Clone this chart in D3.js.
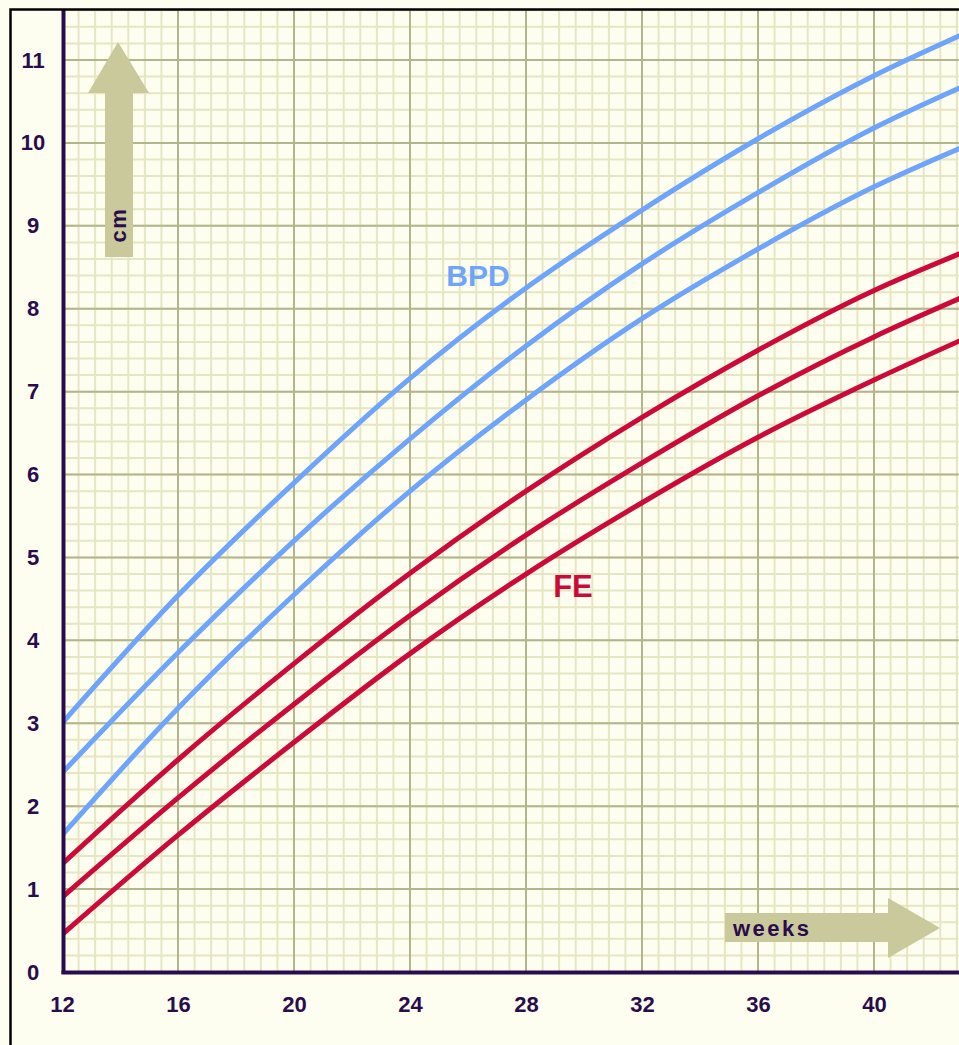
<!DOCTYPE html>
<html>
<head>
<meta charset="utf-8">
<script src="https://cdn.jsdelivr.net/npm/d3@7"></script>
<style>
html,body{margin:0;padding:0;background:#fefef0;}
svg{display:block;}
</style>
</head>
<body>
<svg id="chart" width="959" height="1045"></svg>
<script>
// ---- data ----
const weeks   = [12, 16, 20, 24, 28, 32, 36, 40, 43];
const bpdHigh = [3.00, 4.54, 5.90, 7.16, 8.25, 9.19, 10.05, 10.81, 11.30];
const bpdMid  = [2.40, 3.85, 5.20, 6.43, 7.55, 8.54, 9.40, 10.18, 10.67];
const bpdLow  = [1.65, 3.18, 4.55, 5.80, 6.90, 7.88, 8.72, 9.47, 9.94];
const feHigh  = [1.30, 2.56, 3.72, 4.81, 5.80, 6.69, 7.50, 8.22, 8.67];
const feMid   = [0.90, 2.10, 3.23, 4.30, 5.27, 6.14, 6.95, 7.66, 8.13];
const feLow   = [0.45, 1.65, 2.77, 3.84, 4.80, 5.66, 6.45, 7.14, 7.62];
const xTicks  = [12, 16, 20, 24, 28, 32, 36, 40];
const yTicks  = [0, 1, 2, 3, 4, 5, 6, 7, 8, 9, 10, 11];
const bpdLabel = "BPD", feLabel = "FE", xTitle = "weeks", yTitle = "cm";

const W = 959, H = 1045;
const svg = d3.select("#chart");
const x = d3.scaleLinear().domain([12, 43]).range([62, 961]);
const y = d3.scaleLinear().domain([0, 11]).range([972, 60]);
const plotL = 62, plotR = 959, plotT = 10, plotB = 972;

svg.append("rect").attr("width", W).attr("height", H).attr("fill", "#fefef0");

svg.append("defs").append("clipPath").attr("id", "plotclip")
  .append("rect").attr("x", plotL).attr("y", plotT).attr("width", plotR - plotL).attr("height", plotB - plotT);

const grid = svg.append("g").attr("clip-path", "url(#plotclip)");
// minor grid: 7 cells per 4 weeks, 5 cells per cm
const minorX = d3.range(0, 60).map(i => 12 + i * 4 / 7).filter(v => v <= 43.2);
const minorY = d3.range(0, 60).map(i => i * 0.2).filter(v => v <= 11.8);
grid.selectAll(".mx").data(minorX).join("line")
  .attr("x1", d => x(d)).attr("x2", d => x(d)).attr("y1", plotT).attr("y2", plotB)
  .attr("stroke", "#e6e6c2").attr("stroke-width", 2);
grid.selectAll(".my").data(minorY).join("line")
  .attr("y1", d => y(d)).attr("y2", d => y(d)).attr("x1", plotL).attr("x2", plotR)
  .attr("stroke", "#e6e6c2").attr("stroke-width", 2);
const majorX = d3.range(12, 44, 4);
const majorY = d3.range(0, 12, 1);
grid.selectAll(".Mx").data(majorX).join("line")
  .attr("x1", d => x(d)).attr("x2", d => x(d)).attr("y1", plotT).attr("y2", plotB)
  .attr("stroke", "#b5b58b").attr("stroke-width", 2);
grid.selectAll(".My").data(majorY).join("line")
  .attr("y1", d => y(d)).attr("y2", d => y(d)).attr("x1", plotL).attr("x2", plotR)
  .attr("stroke", "#b5b58b").attr("stroke-width", 2);

// decorative arrows
const arrowFill = "#c9c99b";
svg.append("path").attr("fill", arrowFill)
  .attr("d", "M118,42 L149,93 L133,93 L133,257 L105,257 L105,93 L88,93 Z");
svg.append("path").attr("fill", arrowFill)
  .attr("d", "M725,913 L888,913 L888,898 L940,928 L888,958 L888,942 L725,942 Z");
svg.append("text").attr("x", 733).attr("y", 936)
  .attr("font-family", "Liberation Sans, Arial, sans-serif").attr("font-weight", "bold")
  .attr("font-size", 22).attr("letter-spacing", 2.5).attr("fill", "#2a0c4c").text(xTitle);
svg.append("text").attr("transform", "translate(126,225) rotate(-90)")
  .attr("text-anchor", "middle")
  .attr("font-family", "Liberation Sans, Arial, sans-serif").attr("font-weight", "bold")
  .attr("font-size", 22).attr("letter-spacing", 1.5).attr("fill", "#2a0c4c").text(yTitle);

// curves
const line = d3.line().x(d => x(d[0])).y(d => y(d[1])).curve(d3.curveMonotoneX);
const series = [
  {v: bpdHigh, c: "#6ea4fa"}, {v: bpdMid, c: "#6ea4fa"}, {v: bpdLow, c: "#6ea4fa"},
  {v: feHigh, c: "#cc0a3a"}, {v: feMid, c: "#cc0a3a"}, {v: feLow, c: "#cc0a3a"}
];
const curves = svg.append("g").attr("clip-path", "url(#plotclip)");
curves.selectAll("path").data(series).join("path")
  .attr("d", s => line(weeks.map((w, i) => [w, s.v[i]])))
  .attr("fill", "none").attr("stroke", s => s.c).attr("stroke-width", 5);

svg.append("text").attr("x", 478).attr("y", 286).attr("text-anchor", "middle")
  .attr("font-family", "Liberation Sans, Arial, sans-serif").attr("font-weight", "bold")
  .attr("font-size", 30).attr("fill", "#6ea4fa").text(bpdLabel);
svg.append("text").attr("x", 573).attr("y", 597).attr("text-anchor", "middle")
  .attr("font-family", "Liberation Sans, Arial, sans-serif").attr("font-weight", "bold")
  .attr("font-size", 31).attr("fill", "#cc0a3a").text(feLabel);

// axis lines
const axisColor = "#2a0c4c";
svg.append("line").attr("x1", 63.5).attr("x2", 63.5).attr("y1", plotT).attr("y2", 974)
  .attr("stroke", axisColor).attr("stroke-width", 4);
svg.append("line").attr("x1", 61.5).attr("x2", plotR).attr("y1", 972.5).attr("y2", 972.5)
  .attr("stroke", axisColor).attr("stroke-width", 4);

// tick labels
const yAxis = svg.append("g").attr("transform", "translate(33,0)")
  .call(d3.axisLeft(y).tickValues(yTicks).tickSize(0).tickPadding(0).tickFormat(d3.format("d")));
const xAxis = svg.append("g").attr("transform", "translate(0,996)")
  .call(d3.axisBottom(x).tickValues(xTicks).tickSize(0).tickPadding(0).tickFormat(d3.format("d")));
[yAxis, xAxis].forEach(g => {
  g.select(".domain").remove();
  g.attr("font-family", "Liberation Sans, Arial, sans-serif").attr("font-size", 22).attr("font-weight", "bold");
  g.selectAll("text").attr("fill", axisColor);
});
yAxis.attr("text-anchor", "middle");

// outer frame
svg.append("path").attr("d", "M10.5,1045 L10.5,9.5 L959,9.5")
  .attr("fill", "none").attr("stroke", "#000").attr("stroke-width", 2.5);
</script>
</body>
</html>
